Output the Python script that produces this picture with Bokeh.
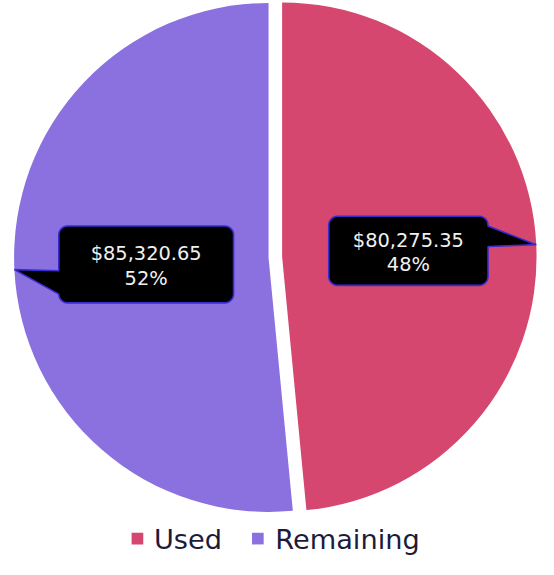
import numpy as np
from bokeh.plotting import figure
from bokeh.models import Range1d, ColumnDataSource
from bokeh.core.properties import value
from bokeh.embed import file_html
from bokeh.resources import INLINE

# ---- data ----
categories = ["Used", "Remaining"]
amounts = [80275.35, 85320.65]
amount_labels = ["$80,275.35", "$85,320.65"]
pct_labels = ["48%", "52%"]
colors = ["#D6476F", "#8B70E0"]

# ---- layout (reference pixels, y grows downward; data y = -pixel y) ----
W, H = 538, 559          # figure size in screen px
REF_W, REF_H = 554, 575  # layout units
S = W / REF_W
CX, CY = 283, 264
R = 262
EXPLODE = 7
FONT = "DejaVu Sans"

p = figure(width=W, height=H, x_range=Range1d(0, REF_W), y_range=Range1d(-REF_H, 0),
           output_backend="svg", toolbar_location=None, x_axis_type=None, y_axis_type=None,
           min_border=0, outline_line_color=None, background_fill_color="white",
           border_fill_color="white")
p.grid.visible = False

vals = np.array(amounts)
frac = vals / vals.sum()
cum = np.concatenate([[0.0], np.cumsum(frac)]) * 2 * np.pi
start = np.pi / 2 - cum[1:]
end = np.pi / 2 - cum[:-1]
mid = (start + end) / 2
xs = CX + EXPLODE * np.cos(mid)
ys = -CY + EXPLODE * np.sin(mid)
src = ColumnDataSource(dict(x=xs, y=ys, start=start, end=end, color=colors, cat=categories))
p.wedge(x="x", y="y", radius=R, start_angle="start", end_angle="end",
        fill_color="color", line_color=None, source=src)

# tips of callouts on slice edge along mid angle
tip_x = xs + R * np.cos(mid)
tip_y = ys + R * np.sin(mid)

# callout boxes (layout px)
box_cx = [420, 150]
box_cy = [257.5, 271.5]
box_w = [164, 180]
box_h = [71, 79]
sides = ["right", "left"]
base = [(232, 253), (278, 302)]


def arc(cx, cy, r, a0, a1, n=8):
    a = np.radians(np.linspace(a0, a1, n))
    return list(cx + r * np.cos(a)), list(cy + r * np.sin(a))


def callout(x0, y0, x1, y1, r, side, b0, b1, tx, ty):
    px, py = [], []
    def add(xx, yy):
        px.extend(xx); py.extend(yy)
    add([x0 + r, x1 - r], [y0, y0])
    add(*arc(x1 - r, y0 + r, r, -90, 0))
    if side == "right":
        add([x1, tx, x1], [b0, ty, b1])
    add(*arc(x1 - r, y1 - r, r, 0, 90))
    add([x1 - r, x0 + r], [y1, y1])
    add(*arc(x0 + r, y1 - r, r, 90, 180))
    if side == "left":
        add([x0, tx, x0], [b1, ty, b0])
    add(*arc(x0 + r, y0 + r, r, 180, 270))
    return px, [-v for v in py]


for i in range(len(categories)):
    x0 = box_cx[i] - box_w[i] / 2
    x1 = box_cx[i] + box_w[i] / 2
    y0 = box_cy[i] - box_h[i] / 2
    y1 = box_cy[i] + box_h[i] / 2
    px, py = callout(x0, y0, x1, y1, 9, sides[i], base[i][0], base[i][1],
                     tip_x[i], -tip_y[i])
    p.patch(px, py, fill_color="black", line_color="#3b2bcf", line_width=1.6)

lbl_size = f"{20 * S:.1f}px"
p.text(x=box_cx, y=[-(c - 11) for c in box_cy], text=amount_labels,
       text_font=value(FONT), text_font_size=value(lbl_size), text_color="#f0f0f0",
       text_align="center", text_baseline="middle")
p.text(x=box_cx, y=[-(c + 14.5) for c in box_cy], text=pct_labels,
       text_font=value(FONT), text_font_size=value(lbl_size), text_color="#f0f0f0",
       text_align="center", text_baseline="middle")

# legend
leg_sq_x = [141, 265]
leg_tx = [158, 283]
p.scatter(x=leg_sq_x, y=[-553.5, -553.5], marker="square", size=12 * S,
          fill_color=colors, line_color=None)
p.text(x=leg_tx, y=[-554, -554], text=categories, text_font=value(FONT),
       text_font_size=value(f"{28 * S:.1f}px"), text_color="#1c1c3a",
       text_align="left", text_baseline="middle")

open("out.html", "w").write(file_html(p, INLINE))
